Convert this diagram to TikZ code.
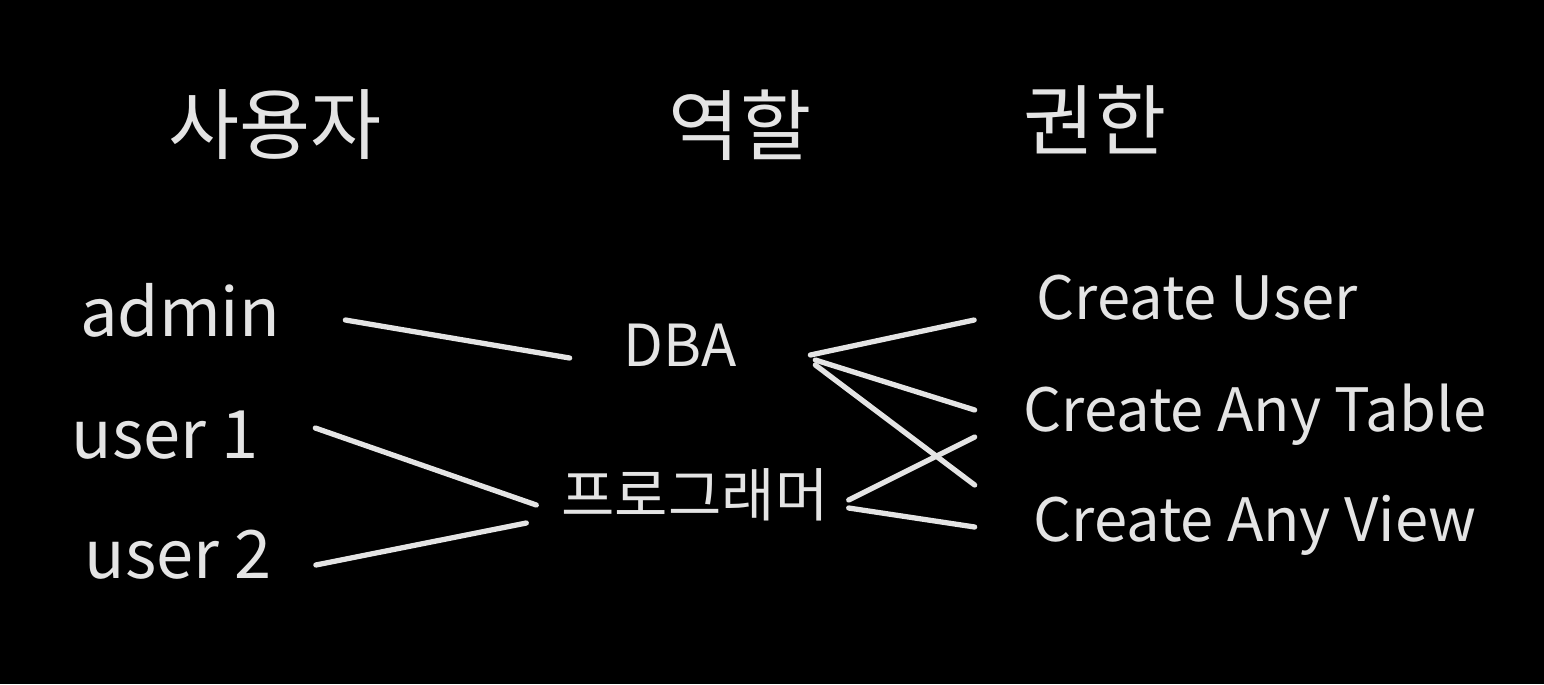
\documentclass[tikz,border=0pt]{standalone}
\usepackage{fontspec}
\setmainfont{Noto Sans CJK KR}
\usetikzlibrary{calc}
\definecolor{chalk}{HTML}{E4E4E4}

\begin{document}
\begin{tikzpicture}[x=0.02cm, y=-0.02cm]
        \tikzset{
           header/.style={
                        text=chalk,
                        inner sep=0pt,
                        font=\fontsize{44}{50}\selectfont
                       },
           user/.style={
                        text=chalk,
                        inner sep=0pt,
                        font=\fontsize{38}{44}\selectfont
                       },
           role/.style={
                        text=chalk,
                        inner sep=0pt,
                        font=\fontsize{33}{40}\selectfont
                       },
           priv/.style={
                        text=chalk,
                        inner sep=0pt,
                        font=\fontsize{34}{40}\selectfont
                       },
           link/.style={
                        draw=chalk,
                        line width=3pt,
                        line cap=round
                       },
                 };
    %--------------------
        \fill[black] (0,0) rectangle (1544,684);
    %--------------------
        \node[header] (userHead) at (275,125)  {사용자};
        \node[header] (roleHead) at (740,125)  {역할};
        \node[header] (privHead) at (1095,120) {권한};

        \node[user, minimum width=0.02cm*260] (admin) at (180,310) {admin};
        \node[user, minimum width=0.02cm*190] (userA) at (165,435) {user 1};
        \node[user, minimum width=0.02cm*195] (userB) at (178,555) {user 2};

        \node[role, minimum width=0.02cm*140] (DBA)  at (680,345) {DBA};
        \node[role, minimum width=0.02cm*250] (prog) at (695,495) {프로그래머};

        \node[priv, minimum width=0.02cm*375] (createUser)  at (1197,298) {Create User};
        \node[priv, minimum width=0.02cm*480] (createTable) at (1255,415) {Create Any Table};
        \node[priv, minimum width=0.02cm*490] (createView)  at (1255,525) {Create Any View};
    %--------------------
        \path[link] ($(admin.east)+(35,10)$)  edge ($(DBA.west)+(-40,13)$)
                    ($(userA.east)+(55,-7)$)  edge ($(prog.west)+(-25,10)$)
                    ($(userB.east)+(40,10)$)  edge ($(prog.west)+(-35,28)$)

                    ($(DBA.east)+(60,10)$)    edge ($(createUser.west)+(-35,22)$)
                    ($(DBA.east)+(65,15)$)    edge ($(createTable.west)+(-40,-5)$)
                    ($(DBA.east)+(65,20)$)    edge ($(createView.west)+(-35,-40)$)

                    ($(prog.east)+(20,5)$)    edge ($(createTable.west)+(-40,22)$)
                    ($(prog.east)+(20,13)$)   edge ($(createView.west)+(-35,2)$);
\end{tikzpicture}
\end{document}
